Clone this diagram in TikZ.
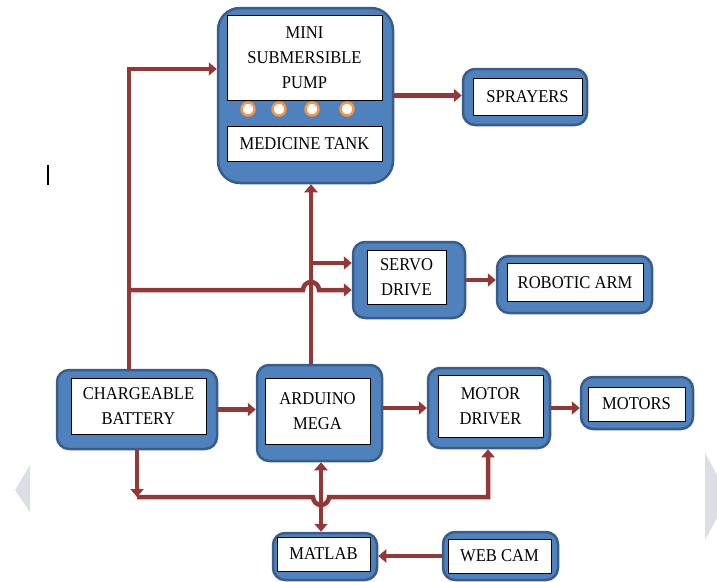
\documentclass[tikz,border=0pt]{standalone}
\usepackage{fontspec}
\setmainfont[FakeStretch=0.92]{Liberation Serif}
\usepackage{xcolor}
\usetikzlibrary{positioning, arrows.meta, calc}

\definecolor{boxblue}{RGB}{79,129,189}
\definecolor{boxedge}{RGB}{56,93,138}
\definecolor{flowred}{RGB}{149,55,53}
\definecolor{valveorange}{RGB}{247,150,70}
\definecolor{navgray}{RGB}{217,223,228}

\begin{document}
\begin{tikzpicture}[
    x=1pt, y=-1pt,
    outerbox/.style={draw=boxedge, fill=boxblue, line width=2.5pt, rounded corners=12pt, inner sep=0pt},
    innerbox/.style={draw=black, fill=white, line width=0.8pt, inner sep=0pt, align=center},
    valve/.style={draw=valveorange, fill=white, line width=2.5pt, circle, minimum size=13pt, inner sep=0pt},
    flow/.style={draw=flowred, line width=4.5pt, -{Triangle[length=8pt, width=13pt]}},
    twoway/.style={draw=flowred, line width=4.5pt, {Triangle[length=8pt, width=13pt]}-{Triangle[length=8pt, width=13pt]}},
    every node/.style={font=\fontsize{18}{25}\selectfont}
]
    \useasboundingbox (0,0) rectangle (717,581);

    % ===============================
    % 1. PUMP AND TANK
    % ===============================
    \node[outerbox, rounded corners=22pt, minimum width=175pt, minimum height=175pt] (pump) at (305.5,95.5) {};
    \node[innerbox, minimum width=155pt, minimum height=85pt] (pumpin) at (304.5,57.5) {MINI\\SUBMERSIBLE\\PUMP};
    \node[innerbox, minimum width=155pt, minimum height=35pt] (tank) at (304.5,143.5) {MEDICINE TANK};
    \node[valve] (v1) at (248,109) {};
    \node[valve] (v2) at (279,109) {};
    \node[valve] (v3) at (312,109) {};
    \node[valve] (v4) at (347,109) {};

    % ===============================
    % 2. OTHER BLOCKS
    % ===============================
    \node[outerbox, minimum width=124pt, minimum height=56pt] (spray) at (525,97) {};
    \node[innerbox, minimum width=109pt, minimum height=37pt] (sprayin) at (527.5,96.5) {SPRAYERS};

    \node[outerbox, minimum width=112pt, minimum height=76pt] (servo) at (409,280) {};
    \node[innerbox, minimum width=79pt, minimum height=54pt] (servoin) at (406.5,277) {SERVO\\DRIVE};

    \node[outerbox, minimum width=155pt, minimum height=57pt] (arm) at (574.5,284.5) {};
    \node[innerbox, minimum width=136pt, minimum height=38pt] (armin) at (575,282.5) {ROBOTIC ARM};

    \node[outerbox, minimum width=160pt, minimum height=79pt] (batt) at (137,409.5) {};
    \node[innerbox, minimum width=135pt, minimum height=56pt] (battin) at (138.5,406) {CHARGEABLE\\BATTERY};

    \node[outerbox, minimum width=125pt, minimum height=96pt] (ard) at (319.5,413) {};
    \node[innerbox, minimum width=105pt, minimum height=66pt] (ardin) at (317.5,411) {ARDUINO\\MEGA};

    \node[outerbox, minimum width=122pt, minimum height=80pt] (mdrv) at (489,408) {};
    \node[innerbox, minimum width=105pt, minimum height=62pt] (mdrvin) at (490.5,406) {MOTOR\\DRIVER};

    \node[outerbox, minimum width=112pt, minimum height=52pt] (motors) at (637,403) {};
    \node[innerbox, minimum width=97pt, minimum height=34pt] (motorsin) at (636.5,404) {MOTORS};

    \node[outerbox, minimum width=104pt, minimum height=47pt] (matlab) at (325,556.5) {};
    \node[innerbox, minimum width=93pt, minimum height=34pt] (matlabin) at (323.5,554) {MATLAB};

    \node[outerbox, minimum width=115pt, minimum height=48pt] (cam) at (500.5,556) {};
    \node[innerbox, minimum width=103pt, minimum height=34pt] (camin) at (499.5,556) {WEB CAM};

    % ===============================
    % 3. CONNECTIONS
    % ===============================
    \coordinate (ltop) at (129,69);
    \coordinate (lmid) at (129,290);
    \coordinate (avert) at (311,263);
    \coordinate (bcorn) at (137,497);

    % battery feed to pump and servo
    \draw[flow] (batt.north -| ltop) -- (ltop) -- (ltop -| pump.west);
    \draw[flow] (lmid) -- (303,290) arc[start angle=180, end angle=0, radius=8pt] -- (lmid -| servo.west);

    % arduino to pump and servo
    \draw[flow] (ard.north -| avert) -- (pump.south -| avert);
    \draw[flow] (avert) -- (avert -| servo.west);

    % chain of outputs
    \draw[flow] (pump.east) -- (pump.east -| spray.west);
    \draw[flow] (servo.east) -- (servo.east -| arm.west);
    \draw[flow] (batt.east) -- (batt.east -| ard.west);
    \draw[flow] (ard.east |- mdrv.west) -- (mdrv.west);
    \draw[flow] (mdrv.east) -- (mdrv.east -| motors.west);

    % battery bottom line to motor driver
    \draw[flow] (batt.south) -- (bcorn);
    \draw[flow] (bcorn) -- (313,497) arc[start angle=180, end angle=360, radius=8pt] -- (488,497) -- (mdrv.south -| 488,0);

    % arduino, matlab and camera
    \draw[twoway] (ard.south -| 321,0) -- (matlab.north -| 321,0);
    \draw[flow] (cam.west) -- (cam.west -| matlab.east);

    % ===============================
    % 4. SCREEN MARKS
    % ===============================
    \fill[navgray] (30,465) -- (15,490) -- (30,512) -- cycle;
    \fill[navgray] (705,453) -- (717,475) -- (717,518) -- (705,540) -- cycle;
    \draw[line width=1.5pt] (48,165) -- (48,185);

\end{tikzpicture}
\end{document}
